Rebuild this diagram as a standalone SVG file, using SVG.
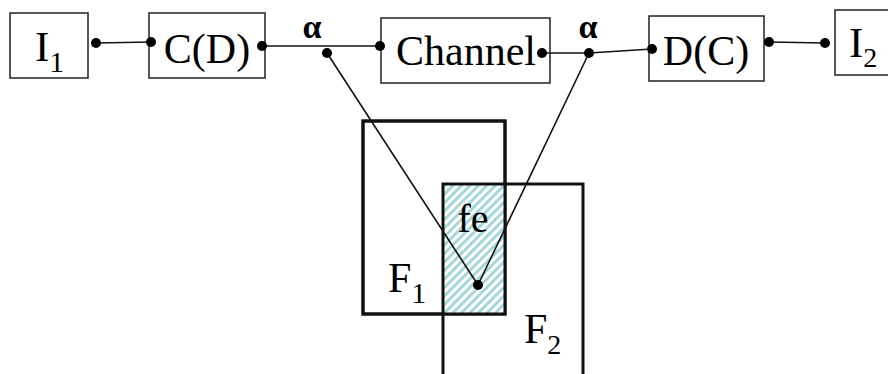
<svg xmlns="http://www.w3.org/2000/svg" width="888" height="374" viewBox="0 0 888 374">
<defs>
<pattern id="hatch" patternUnits="userSpaceOnUse" width="6" height="6" patternTransform="rotate(45)">
<rect x="0" y="0" width="6" height="6" fill="#ffffff"/>
<rect x="0" y="0" width="3" height="6" fill="#a6d8d8"/>
</pattern>
</defs>
<style>
.box{fill:#fff;stroke:#222;stroke-width:1.5}
.big{fill:none;stroke:#111;stroke-width:3}
.ln{stroke:#111;stroke-width:1.6;fill:none}
.dot{fill:#000}
</style>
<rect width="888" height="374" fill="#fff"/>
<g id="F1">
<rect class="big" x="363" y="121" width="142" height="193"/>
</g>
<g id="F2">
<rect x="443" y="184" width="62" height="130" fill="url(#hatch)"/>
<rect class="big" x="443" y="184" width="140" height="200"/>
<rect class="big" x="363" y="121" width="142" height="193" fill="none"/>
</g>
<g id="fe">
<text font-family="Liberation Serif" font-size="40" x="473" y="232" text-anchor="middle">fe</text>
</g>
<g id="labelF1">
<text font-family="Liberation Serif" font-size="42" x="388" y="292">F<tspan font-size="30" dy="11">1</tspan></text>
</g>
<g id="labelF2">
<text font-family="Liberation Serif" font-size="42" x="524" y="343">F<tspan font-size="28" dy="11">2</tspan></text>
</g>
<g id="I1">
<rect class="box" x="10" y="13" width="78" height="65"/>
<text font-family="Liberation Serif" font-size="43" x="35" y="61">I<tspan font-size="30" dy="11">1</tspan></text>
</g>
<g id="CD">
<rect class="box" x="149" y="13" width="116" height="65"/>
<text font-family="Liberation Serif" font-size="42" x="207" y="63" text-anchor="middle">C(D)</text>
</g>
<g id="Channel">
<rect class="box" x="381" y="18" width="169" height="65"/>
<text font-family="Liberation Serif" font-size="42" x="466" y="65" text-anchor="middle">Channel</text>
</g>
<g id="DC">
<rect class="box" x="649" y="16" width="115" height="65"/>
<text font-family="Liberation Serif" font-size="42" x="706" y="65" text-anchor="middle">D(C)</text>
</g>
<g id="I2">
<rect class="box" x="835" y="10" width="54" height="65"/>
<text font-family="Liberation Serif" font-size="43" x="849" y="57">I<tspan font-size="28" dy="10">2</tspan></text>
</g>
<g id="alpha1"><text font-family="Liberation Serif" font-size="34" font-weight="bold" x="312" y="38" text-anchor="middle">α</text></g>
<g id="alpha2"><text font-family="Liberation Serif" font-size="34" font-weight="bold" x="588" y="38" text-anchor="middle">α</text></g>
<g id="connectors">
<line class="ln" x1="96" y1="43" x2="151" y2="42"/>
<line class="ln" x1="262" y1="46" x2="380" y2="46"/>
<polyline class="ln" points="542,53 589,53 652,49"/>
<line class="ln" x1="769" y1="42" x2="825" y2="43"/>
<line class="ln" x1="327" y1="53" x2="478" y2="285"/>
<line class="ln" x1="589" y1="53" x2="478" y2="285"/>
<circle class="dot" cx="96" cy="43" r="5"/>
<circle class="dot" cx="151" cy="42" r="5"/>
<circle class="dot" cx="262" cy="46" r="5"/>
<circle class="dot" cx="380" cy="46" r="5"/>
<circle class="dot" cx="327" cy="53" r="5"/>
<circle class="dot" cx="542" cy="53" r="5"/>
<circle class="dot" cx="589" cy="53" r="5"/>
<circle class="dot" cx="652" cy="49" r="5"/>
<circle class="dot" cx="769" cy="42" r="5"/>
<circle class="dot" cx="825" cy="43" r="5"/>
<circle class="dot" cx="478" cy="285" r="5"/>
</g>
</svg>
